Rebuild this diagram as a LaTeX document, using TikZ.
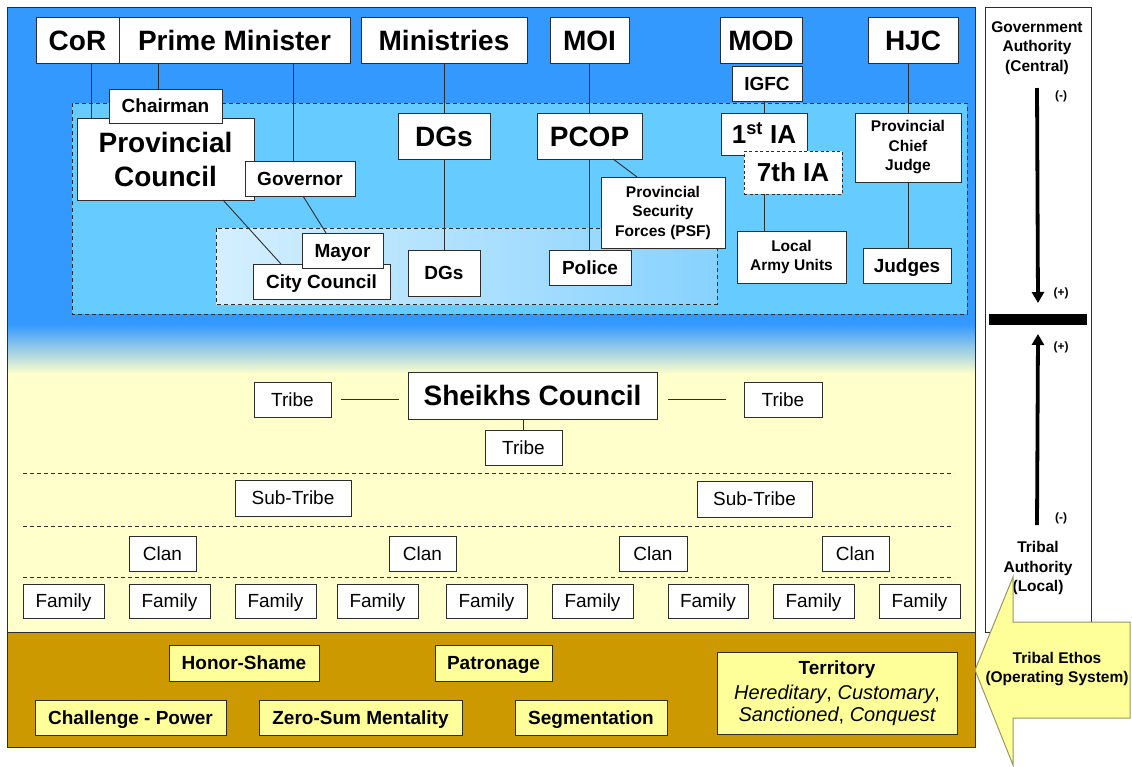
\documentclass[tikz,border=0pt]{standalone}
\usepackage{fontspec}
\setmainfont{Liberation Sans}
\usetikzlibrary{arrows.meta}
\definecolor{bluetop}{RGB}{51,153,255}
\definecolor{blueout}{RGB}{102,204,255}
\definecolor{innerL}{RGB}{212,239,255}
\definecolor{innerR}{RGB}{135,210,255}
\definecolor{ybg}{RGB}{255,255,204}
\definecolor{brownbg}{RGB}{204,153,0}
\definecolor{ybox}{RGB}{255,255,153}
\definecolor{linec}{RGB}{45,45,45}
\definecolor{arrowedge}{RGB}{150,150,100}
\newcommand\bx[7][]{\node[box,#1,anchor=north west,minimum width={#5-#3},minimum height={#6-#4}] (#2) at (#3,#4) {#7};}
\begin{document}
\begin{tikzpicture}[x=1pt,y=-1pt,
  box/.style={draw=linec,fill=white,line width=0.9pt,inner sep=0pt,outer sep=0pt,align=center,text=black},
  ybx/.style={box,fill=ybox},
  big/.style={font=\fontsize{28}{34}\selectfont\bfseries},
  med/.style={font=\fontsize{19}{22}\selectfont\bfseries},
  sml/.style={font=\fontsize{15.5}{19.5}\selectfont\bfseries},
  reg/.style={font=\fontsize{19}{22}\selectfont},
  bigone/.style={big,text height=20pt,text depth=0pt},
  medone/.style={med,text height=13.6pt,text depth=0pt},
  regone/.style={reg,text height=13.6pt,text depth=0pt},
  pm/.style={font=\fontsize{12}{13}\selectfont\bfseries,inner sep=0pt},
  conn/.style={draw=linec,line width=0.9pt},
  regionline/.style={draw=linec,line width=0.8pt,dash pattern=on 4pt off 3pt},
  sepline/.style={draw=linec,line width=0.8pt,dash pattern=on 4pt off 3pt},
  bigarrow/.style={draw=black,line width=3.8pt,-{Triangle[width=12pt,length=11pt]}}
]
\useasboundingbox (0,0) rectangle (1132,766);
\fill[white] (0,0) rectangle (1132,766);
% backgrounds
\fill[bluetop] (7,7) rectangle (975,324);
\shade[top color=bluetop,bottom color=ybg] (7,324) rectangle (975,374);
\fill[ybg] (7,374) rectangle (975,632);
\fill[brownbg] (7,632) rectangle (975,747);
\draw[linec,line width=1pt] (7,7) rectangle (975,747);
\draw[linec,line width=1pt] (7,632) -- (975,632);
% regions
\fill[blueout] (72,103) rectangle (967,314);
\draw[regionline] (72,103) rectangle (967,314);
\shade[left color=innerL,right color=innerR] (216,228) rectangle (717,304);
\draw[regionline] (216,228) rectangle (717,304);
% top row
\bx[bigone]{cor}{36}{17}{119}{63}{CoR}
\bx[bigone]{pm}{119}{17}{350}{63}{Prime Minister}
\bx[bigone]{min}{361}{17}{527}{63}{Ministries}
\bx[bigone]{moi}{550}{17}{629}{63}{MOI}
\bx[bigone]{mod}{720}{17}{802}{63}{MOD}
\bx[bigone]{hjc}{868}{17}{958}{63}{HJC}
\bx[medone]{igfc}{732}{66}{802}{101}{IGFC}
% provincial level
\bx[big]{pc}{77}{118}{254}{200}{Provincial\\Council}
\bx[medone]{chair}{109}{89}{222}{123}{Chairman}
\bx[medone]{gov}{245}{161}{355}{196}{Governor}
\bx[bigone]{dg1}{398}{113}{490}{159}{DGs}
\bx[bigone]{pcop}{537}{113}{642}{159}{PCOP}
\bx[sml]{psf}{601}{177}{725}{248}{Provincial\\Security\\Forces (PSF)}
\bx[bigone,font=\fontsize{26}{30}\selectfont\bfseries,text height=18.6pt]{ia1}{721}{113}{807}{155}{1\textsuperscript{st} IA}
\bx[bigone,font=\fontsize{26}{30}\selectfont\bfseries,text height=18.6pt,dash pattern=on 3pt off 2.5pt]{ia7}{744}{151}{842}{194}{7th IA}
\bx[sml]{pcj}{855}{113}{961}{182}{Provincial\\Chief\\Judge}
% local level
\bx[medone]{cc}{253}{264}{390}{299}{City Council}
\bx[medone]{mayor}{302}{233}{383}{268}{Mayor}
\bx[medone]{dg2}{408}{250}{480}{296}{DGs}
\bx[medone]{police}{549}{250}{631}{285}{Police}
\bx[sml]{lau}{737}{231}{846}{283}{Local\\Army Units}
\bx[medone]{judges}{863}{248}{951}{283}{Judges}
% connectors government
\draw[conn] ([xshift=13.5pt]cor.south) -- ([xshift=13.5pt]cor.south |- pc.north);
\draw[conn] ([xshift=-76.5pt]pm.south) -- ([xshift=-76.5pt]pm.south |- chair.north);
\draw[conn] ([xshift=58.5pt]pm.south) -- ([xshift=58.5pt]pm.south |- gov.north);
\draw[conn] ([xshift=57.5pt]pc.south) -- ([xshift=-40.5pt]cc.north);
\draw[conn] ([xshift=3pt]gov.south) -- ([xshift=-16.5pt]mayor.north);
\draw[conn] (min.south) -- (dg1.north);
\draw[conn] (dg1.south) -- (dg2.north);
\draw[conn] (moi.south) -- (pcop.north);
\draw[conn] (pcop.south) -- (pcop.south |- police.north);
\draw[conn] ([xshift=23.5pt]pcop.south) -- ([xshift=-26pt]psf.north);
\draw[conn] (ia1.north |- igfc.south) -- (ia1.north);
\draw[conn] (ia1.north |- ia7.south) -- (ia1.north |- lau.north);
\draw[conn] (pcj.north |- hjc.south) -- (pcj.north);
\draw[conn] (pcj.south) -- (pcj.south |- judges.north);
% tribal area
\bx[bigone]{sc}{408}{372}{657}{419}{Sheikhs Council}
\bx[regone]{tribeL}{254}{382}{331}{417}{Tribe}
\bx[regone]{tribeR}{744}{382}{822}{417}{Tribe}
\bx[regone]{tribeB}{485}{430}{562}{465}{Tribe}
\draw[conn] ([xshift=10pt]tribeL.east) -- ([xshift=-9pt]sc.west |- tribeL.east);
\draw[conn] ([xshift=11pt]sc.east |- tribeR.west) -- ([xshift=-18pt]tribeR.west);
\draw[conn] (tribeB.north |- sc.south) -- (tribeB.north);
\draw[sepline] (23,473) -- (954,473);
\draw[sepline] (23,526) -- (954,526);
\draw[sepline] (23,577) -- (954,577);
\bx[regone]{subL}{235}{480}{351}{516}{Sub-Tribe}
\bx[regone]{subR}{697}{481}{812}{517}{Sub-Tribe}
\bx[regone]{clan1}{129}{536}{196}{571}{Clan}
\bx[regone]{clan2}{389}{536}{456}{571}{Clan}
\bx[regone]{clan3}{619}{536}{687}{571}{Clan}
\bx[regone]{clan4}{822}{536}{889}{571}{Clan}
\bx[regone]{fam1}{23}{584}{104}{618}{Family}
\bx[regone]{fam2}{129}{584}{210}{618}{Family}
\bx[regone]{fam3}{235}{584}{316}{618}{Family}
\bx[regone]{fam4}{337}{584}{418}{618}{Family}
\bx[regone]{fam5}{446}{584}{527}{618}{Family}
\bx[regone]{fam6}{552}{584}{633}{618}{Family}
\bx[regone]{fam7}{668}{584}{748}{618}{Family}
\bx[regone]{fam8}{773}{584}{854}{618}{Family}
\bx[regone]{fam9}{879}{584}{960}{618}{Family}
% ethos boxes
\bx[ybx,medone]{honor}{169}{645}{319}{681}{Honor-Shame}
\bx[ybx,medone]{patron}{435}{645}{552}{681}{Patronage}
\bx[ybx,medone]{chal}{35}{700}{226}{735}{Challenge - Power}
\bx[ybx,medone]{zero}{259}{700}{462}{735}{Zero-Sum Mentality}
\bx[ybx,medone]{segm}{515}{700}{667}{735}{Segmentation}
\bx[ybx,med]{terr}{717}{652}{957}{734}{Territory\\[3pt]{\fontsize{20}{20}\selectfont\mdseries{\itshape Hereditary}, {\itshape Customary},}\\{\fontsize{20}{20}\selectfont\mdseries{\itshape Sanctioned}, {\itshape Conquest}}}
% right panel
\node[box,anchor=north west,minimum width=106,minimum height=625] (panel) at (985,7) {};
\node[sml,align=center] (govh) at (1037,48) {Government\\Authority\\(Central)};
\node[fill=black,inner sep=0pt,outer sep=0pt,anchor=north west,minimum width=98,minimum height=11] (bar) at (989,314) {};
\coordinate (downstart) at (1037,88);
\coordinate (upstart) at (1037,525);
\draw[bigarrow] (downstart) -- ([yshift=11pt]bar.north);
\draw[bigarrow] (upstart) -- ([yshift=-9pt]bar.south);
\node[pm] (m1) at (1061,96) {(-)};
\node[pm] (p1) at (1061,293) {(+)};
\node[pm] (p2) at (1061,347) {(+)};
\node[pm] (m2) at (1061,518) {(-)};
\node[sml,align=center] (triba) at (1038,568) {Tribal\\Authority\\(Local)};
\draw[draw=arrowedge,fill=ybox,line width=1pt] (975,670) -- (1013,577) -- (1013,622) -- (1130,622) -- (1130,718) -- (1013,718) -- (1013,765) -- cycle;
\node[sml,align=center] (ethos) at (1057,669) {Tribal Ethos\\(Operating System)};
\end{tikzpicture}
\end{document}
